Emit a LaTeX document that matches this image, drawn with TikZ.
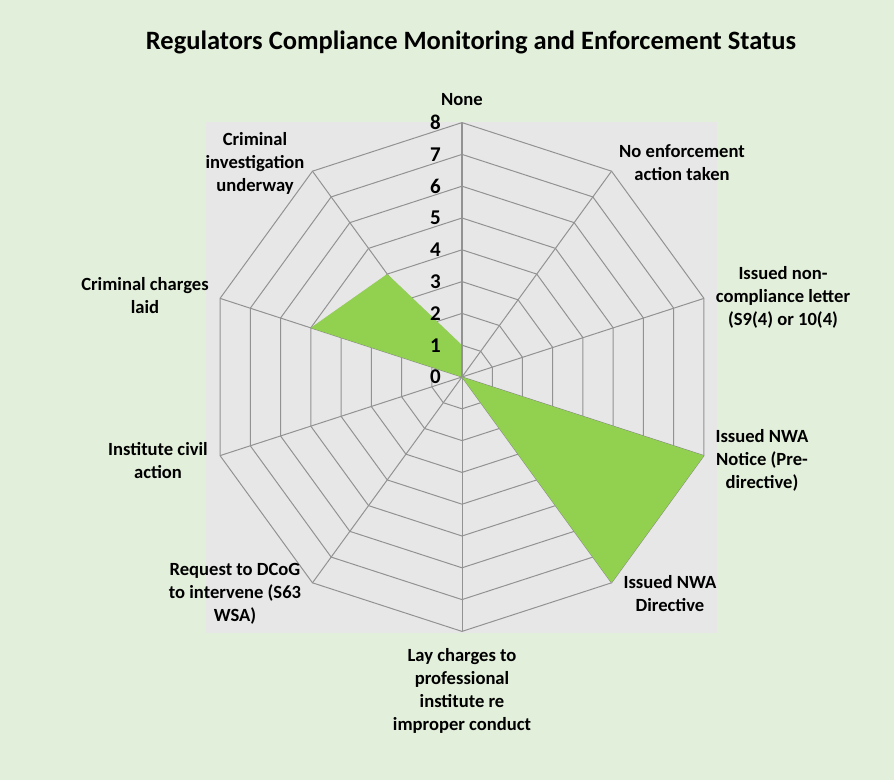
\documentclass[tikz,border=0pt]{standalone}
\usepackage{fontspec}
\setmainfont{Carlito}
\definecolor{bggreen}{HTML}{E2EFDA}
\definecolor{plotgrey}{HTML}{E7E7E7}
\definecolor{gridgrey}{HTML}{929292}
\definecolor{datagreen}{HTML}{92D050}
\begin{document}
\begin{tikzpicture}[x=1pt,y=1pt,
  lbl/.style={font=\bfseries\fontsize{18.6}{23}\selectfont, align=center, inner sep=0pt, text=black},
  num/.style={font=\bfseries\fontsize{21}{24}\selectfont, anchor=east, inner sep=0pt},
  gridline/.style={draw=gridgrey, line width=1pt},
  axisline/.style={draw=gridgrey, line width=2pt}]
\fill[bggreen] (0,0) rectangle (894,780);
\useasboundingbox (0,0) rectangle (894,780);
\fill[plotgrey] (206,147) rectangle (717,658);
\coordinate (C) at (462,403);
% rings
\foreach \k in {1,...,8}{
  \draw[gridline] ([shift={(90:\k*31.8)}]C)
    \foreach \i in {1,...,9}{ -- ([shift={({90-36*\i}:\k*31.8)}]C) } -- cycle;
}
% spokes
\foreach \i in {1,...,9}{
  \draw[gridline] (C) -- ([shift={({90-36*\i}:8*31.8)}]C);
}
% data
\foreach \i/\v in {0/1,1/0,2/0,3/8,4/8,5/0,6/0,7/0,8/5,9/4}{
  \coordinate (d\i) at ([shift={({90-36*\i}:\v*31.8)}]C);
}
\fill[black, opacity=0.18, shift={(2.5,-2.5)}] (d0) -- (d1) -- (d2) -- (d3) -- (d4) -- (d5) -- (d6) -- (d7) -- (d8) -- (d9) -- cycle;
\fill[datagreen] (d0) -- (d1) -- (d2) -- (d3) -- (d4) -- (d5) -- (d6) -- (d7) -- (d8) -- (d9) -- cycle;
\coordinate (top) at ([shift={(90:8*31.8)}]C);
\draw[axisline] (C) -- (top);
% axis numbers
\foreach \k in {0,...,8}{
  \node[num] (n\k) at ([shift={(-21,\k*31.8)}]C) {\k};
}
% title
\node[font=\bfseries\fontsize{26.5}{30}\selectfont, inner sep=0pt] (title) at (471,738) {Regulators Compliance Monitoring and Enforcement Status};
% category labels
\node[lbl] (l0) at (462,680) {None};
\node[lbl] (l1) at (682,617) {No enforcement\\action taken};
\node[lbl] (l2) at (783,483) {Issued non-\\compliance letter\\(S9(4) or 10(4)};
\node[lbl] (l3) at (762,320) {Issued NWA\\Notice (Pre-\\directive)};
\node[lbl] (l4) at (670,186) {Issued NWA\\Directive};
\node[lbl] (l5) at (462,89) {Lay charges to\\professional\\institute re\\improper conduct};
\node[lbl] (l6) at (235,186) {Request to DCoG\\to intervene (S63\\WSA)};
\node[lbl] (l7) at (158,319) {Institute civil\\action};
\node[lbl] (l8) at (145,484) {Criminal charges\\laid};
\node[lbl] (l9) at (255,617) {Criminal\\investigation\\underway};
\end{tikzpicture}
\end{document}
